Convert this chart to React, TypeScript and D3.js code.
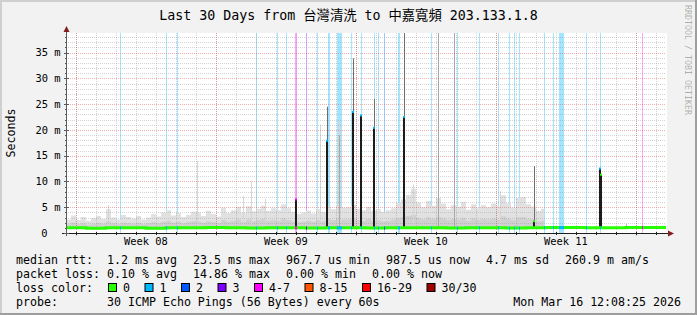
import React from "react";
import * as d3 from "d3";

const START = Date.UTC(2026, 1, 14, 12, 8, 25);
const END = Date.UTC(2026, 2, 16, 12, 8, 25);
const DAY_MS = 864e5;

const Y_MAX = 38.8;
const yMajorTicks = [0, 5, 10, 15, 20, 25, 30, 35];
const yTickLabels = ["0", "5 m", "10 m", "15 m", "20 m", "25 m", "30 m", "35 m"];
const weekLabels = ["Week 08", "Week 09", "Week 10", "Week 11"];

// smoke (ms) in 0.25-day buckets from the start
const SMOKE_STEP_DAYS = 0.25;
const SMOKE_END_DAY = 23.9;
const smokeMin = 0.9;
const smokeHi = [
  2.6, 3.4, 2.5, 3.1, 2.4, 2.9, 3.3, 2.7, 4.6, 3.0, 2.6, 3.5, 3.1, 2.8, 3.3, 2.6,
  3.0, 3.7, 3.2, 4.0, 4.4, 3.4, 3.9, 3.1, 3.5, 4.1, 4.0, 3.3, 4.3, 3.7, 3.2, 4.9,
  3.9, 4.4, 5.1, 4.0, 5.2, 4.2, 4.7, 5.3, 4.3, 4.8, 4.4, 5.6, 4.8, 4.1, 3.7, 4.0,
  4.3, 3.8, 4.6, 4.1, 5.2, 4.6, 5.4, 4.9, 5.0, 5.5, 4.7, 4.4, 5.1, 4.3, 4.6, 4.1,
  4.4, 4.8, 5.8, 6.5, 7.4, 8.6, 5.9, 5.0, 6.2, 5.3, 6.8, 5.7, 4.6, 5.4, 5.1, 6.0,
  4.5, 5.6, 4.8, 5.4, 5.0, 5.7, 5.2, 7.3, 5.8, 4.9, 6.8, 7.0, 5.6, 5.1, 4.3, 4.7,
];
const smokeLo = [
  1.7, 2.0, 1.7, 1.9, 1.6, 1.8, 2.0, 1.8, 2.3, 1.9, 1.7, 2.0, 1.9, 1.8, 2.0, 1.7,
  1.9, 2.1, 1.9, 2.2, 2.4, 2.0, 2.2, 1.9, 2.1, 2.3, 2.2, 2.0, 2.3, 2.1, 1.9, 2.5,
  2.2, 2.4, 2.6, 2.2, 2.6, 2.3, 2.5, 2.7, 2.4, 2.5, 2.4, 2.8, 2.5, 2.3, 2.1, 2.2,
  2.4, 2.2, 2.5, 2.3, 2.7, 2.5, 2.8, 2.6, 2.6, 2.8, 2.5, 2.4, 2.7, 2.4, 2.5, 2.3,
  2.4, 2.6, 2.9, 3.1, 3.3, 3.5, 2.9, 2.6, 3.0, 2.7, 3.1, 2.8, 2.5, 2.7, 2.6, 2.9,
  2.4, 2.8, 2.5, 2.7, 2.6, 2.8, 2.6, 3.2, 2.8, 2.5, 3.0, 3.1, 2.7, 2.6, 2.3, 2.4,
];

// thin smoke spikes (day offset, ms)
const lightSmokeDay = [2.1, 6.55, 8.85, 9.235, 9.95, 12.7, 13.6, 13.72, 17.35, 21.7];
const lightSmokeMax = [5.4, 13.9, 7.1, 10.0, 6.6, 21.0, 22.0, 21.0, 9.4, 8.1];
const denseSmokeDay = [13.66, 18.6, 19.4, 28.01];
const denseSmokeMax = [19.0, 38.8, 38.8, 1.7];

// median rtt, one value per day (ms)
const medianDaily = [
  1.0, 0.9, 1.0, 1.0, 0.9, 1.0, 1.0, 1.05, 1.0, 0.95, 1.0, 1.0, 0.95, 1.0, 1.0,
  0.95, 1.0, 1.0, 1.0, 0.95, 1.0, 1.0, 0.95, 1.0, 1.05, 1.05, 1.0, 1.0, 1.05, 1.05,
];

// packet loss events
const lossDay = [
  2.715, 5.015, 5.565, 9.485, 10.535, 11.0, 11.45, 12.0, 12.565, 13.09, 13.535, 14.265,
  14.75, 15.385, 15.615, 15.915, 16.6, 18.235, 19.565, 20.635, 21.615, 22.165, 22.415,
  22.665, 23.915, 24.335, 24.65, 26.015, 26.715, 28.785,
];
const lossDuration = [
  0.065, 0.065, 0.065, 0.065, 0.065, 0.065, 0.1, 0.065, 0.065, 0.08, 0.25, 0.065,
  0.065, 0.065, 0.065, 0.065, 0.1, 0.065, 0.065, 0.065, 0.065, 0.065, 0.065,
  0.065, 0.065, 0.065, 0.25, 0.065, 0.065, 0.065,
];
const lossClass = [
  1, 1, 1, 1, 1, 1, 4, 3, 1, 1, 1, 1, 1, 1, 1, 2, 1, 1, 1, 1, 1, 1, 1, 1, 1, 1, 1, 1, 1, 4,
];

// high-latency spikes
const spikeDay = [11.5, 13.05, 14.335, 14.75, 15.415, 16.9, 23.415, 26.685, 26.75];
const spikeMedian = [6.5, 17.9, 23.5, 22.8, 20.4, 22.5, 2.3, 12.5, 11.3];
const spikeMax = [6.5, 24.5, 33.9, 22.8, 26.0, 38.8, 13.0, 12.5, 11.3];
const spikeLoss = [4, 1, 1, 1, 1, 1, 0, 1, 0];

const lossLegend = ["0", "1", "2", "3", "4-7", "8-15", "16-29", "30/30"];
const lossColors = ["#26ff00", "#00b8ff", "#0059ff", "#7e00ff", "#ff00ff", "#ff5500", "#ff0000", "#a00000"];

const legendRtt = ["1.2 ms avg", "23.5 ms max", "967.7 us min", "987.5 us now", "4.7 ms sd", "260.9 m am/s"];
const legendLoss = ["0.10 % avg", "14.86 % max", "0.00 % min", "0.00 % now"];
const probeText = "30 ICMP Echo Pings (56 Bytes) every 60s";
const dateText = "Mon Mar 16 12:08:25 2026";
const titleText = "Last 30 Days from 台灣清洗 to 中嘉寬頻 203.133.1.8";

const MONO = "'DejaVu Sans Mono', 'Noto Sans CJK TC', monospace";
const W = 697;
const H = 315;
const X0 = 66, X1 = 666, Y0 = 233, Y1 = 33;
const LEG_CHAR = 7.0;
const LEG_FONT = LEG_CHAR / 0.602;

export default function App() {
  const xs = d3.scaleUtc().domain([new Date(START), new Date(END)]).range([X0, X1]);
  const ys = d3.scaleLinear().domain([0, Y_MAX]).range([Y0, Y1]);
  const X = (d: number) => xs(new Date(START + d * DAY_MS));

  const days = d3.utcDay.range(new Date(START), new Date(END));
  const sundays = d3.utcSunday.range(new Date(START), new Date(END));
  const weekMids = sundays
    .map((s) => new Date(s.getTime() + 3.5 * DAY_MS))
    .filter((m) => m.getTime() < END);
  const minorY = d3.range(1, Math.floor(Y_MAX) + 1).filter((v) => v % 5 !== 0);

  type P = { d: number; hi: number; lo: number };
  const smokePts: P[] = smokeHi.map((hi, i) => ({ d: i * SMOKE_STEP_DAYS, hi, lo: smokeLo[i] }));
  smokePts.push({ d: SMOKE_END_DAY, hi: smokeHi[smokeHi.length - 1], lo: smokeLo[smokeLo.length - 1] });
  const areaHi = d3.area<P>().x((p) => X(p.d)).y0(ys(smokeMin)).y1((p) => ys(p.hi)).curve(d3.curveStepAfter);
  const areaLo = d3.area<P>().x((p) => X(p.d)).y0(ys(smokeMin)).y1((p) => ys(p.lo)).curve(d3.curveStepAfter);

  const medPts = medianDaily.map((v, i) => [i, v] as [number, number]);
  medPts.push([30, medianDaily[medianDaily.length - 1]]);
  const medLine = d3.line<[number, number]>().x((p) => X(p[0])).y((p) => ys(p[1])).curve(d3.curveStepAfter);
  const medAt = (d: number) => medianDaily[Math.min(29, Math.floor(d))];

  const legX0 = 107;
  const gap = 16;
  const rttX: number[] = [];
  legendRtt.reduce((x, s) => { rttX.push(x); return x + s.length * LEG_CHAR + gap; }, legX0);
  const lossX: number[] = [];
  legendLoss.reduce((x, s) => { lossX.push(x); return x + s.length * LEG_CHAR + gap; }, legX0);
  const colorX: number[] = [];
  lossLegend.reduce((x, s) => { colorX.push(x); return x + 15 + s.length * LEG_CHAR + 14.5; }, 108);

  return (
    <svg width={W} height={H} style={{ display: "block", position: "absolute", left: 0, top: 0 }}>
      <rect x={0} y={0} width={W} height={H} fill="#f2f2f2" />
      <rect x={0} y={0} width={W} height={2} fill="#cfcfcf" />
      <rect x={0} y={0} width={2} height={H} fill="#cfcfcf" />
      <rect x={0} y={H - 2} width={W} height={2} fill="#9e9e9e" />
      <rect x={W - 2} y={0} width={2} height={H} fill="#9e9e9e" />

      <rect x={X0} y={Y1} width={X1 - X0 + 1} height={Y0 - Y1} fill="#ffffff" />

      {/* loss background */}
      {lossDay.map((d, i) => {
        const x = Math.round(X(d));
        const w = Math.max(1, Math.round(X(d + lossDuration[i]) - X(d)));
        return (
          <rect key={"lb" + i} x={x} y={Y1} width={w} height={Y0 - Y1}
            fill={lossColors[lossClass[i]]} fillOpacity={0.36} />
        );
      })}

      {/* smoke */}
      <path d={areaHi(smokePts) || ""} fill="#e1e1e1" />
      <path d={areaLo(smokePts) || ""} fill="#d0d0d0" />
      {lightSmokeDay.map((d, i) => (
        <rect key={"ls" + i} x={Math.round(X(d))} y={ys(lightSmokeMax[i])} width={1}
          height={ys(smokeMin) - ys(lightSmokeMax[i])} fill="#d6d6d6" />
      ))}
      {denseSmokeDay.map((d, i) => (
        <rect key={"ds" + i} x={Math.round(X(d))} y={ys(denseSmokeMax[i])} width={1}
          height={ys(smokeMin) - ys(denseSmokeMax[i])} fill="#a8a8a8" />
      ))}

      {/* grid */}
      <g shapeRendering="crispEdges" strokeDasharray="1,1">
        {minorY.map((v) => (
          <line key={"hy" + v} x1={X0} x2={X1} y1={Math.round(ys(v)) + 0.5} y2={Math.round(ys(v)) + 0.5}
            stroke="#9a9a9a" strokeOpacity={0.42} />
        ))}
        {days.map((t, i) => (
          <line key={"vx" + i} x1={Math.round(xs(t)) + 0.5} x2={Math.round(xs(t)) + 0.5} y1={Y1} y2={Y0}
            stroke="#9a9a9a" strokeOpacity={0.42} />
        ))}
        {yMajorTicks.filter((v) => v > 0).map((v) => (
          <line key={"my" + v} x1={X0} x2={X1} y1={Math.round(ys(v)) + 0.5} y2={Math.round(ys(v)) + 0.5}
            stroke="#de4f4f" strokeOpacity={0.45} />
        ))}
        {sundays.map((t, i) => (
          <line key={"mx" + i} x1={Math.round(xs(t)) + 0.5} x2={Math.round(xs(t)) + 0.5} y1={Y1} y2={Y0 + 3}
            stroke="#de4f4f" strokeOpacity={0.45} />
        ))}
      </g>

      {/* spikes */}
      {spikeDay.map((d, i) => {
        const x = Math.round(X(d)) - 1;
        return (
          <g key={"sp" + i}>
            <rect x={x + 1} y={ys(spikeMax[i])} width={1} height={ys(spikeMedian[i]) - ys(spikeMax[i])} fill="#6e6e6e" />
            <rect x={x} y={ys(spikeMedian[i])} width={2} height={ys(medAt(d)) - ys(spikeMedian[i])} fill="#1c1c1c" />
            <rect x={x} y={ys(spikeMedian[i]) - 1} width={2} height={2} fill={lossColors[spikeLoss[i]]} />
          </g>
        );
      })}

      {/* median */}
      <path d={medLine(medPts) || ""} fill="none" stroke={lossColors[0]} strokeWidth={3} />
      {lossDay.map((d, i) => {
        const x = Math.round(X(d));
        const w = Math.max(1, Math.round(X(d + lossDuration[i]) - X(d)));
        return (
          <rect key={"lm" + i} x={x} y={ys(medAt(d)) - 1.5} width={w} height={3} fill={lossColors[lossClass[i]]} />
        );
      })}

      {/* axes */}
      <g shapeRendering="crispEdges">
        <line x1={X0 + 0.5} x2={X0 + 0.5} y1={Y0 + 3} y2={30} stroke="#5a5a5a" />
        <line x1={62} x2={669} y1={Y0 + 0.5} y2={Y0 + 0.5} stroke="#1f1f1f" />
        {minorY.map((v) => (
          <line key={"ty" + v} x1={X0 - 1} x2={X0 + 1} y1={Math.round(ys(v)) + 0.5} y2={Math.round(ys(v)) + 0.5} stroke="#5a5a5a" />
        ))}
        {yMajorTicks.map((v) => (
          <line key={"tmy" + v} x1={X0 - 2} x2={X0 + 3} y1={Math.round(ys(v)) + 0.5} y2={Math.round(ys(v)) + 0.5} stroke="#5a5a5a" />
        ))}
        {days.map((t, i) => (
          <line key={"tx" + i} x1={Math.round(xs(t)) + 0.5} x2={Math.round(xs(t)) + 0.5} y1={Y0 - 1} y2={Y0 + 2} stroke="#1f1f1f" />
        ))}
      </g>
      <path d={`M${X0 + 0.5},26 L${X0 - 2.5},32 L${X0 + 3.5},32 Z`} fill="#801f1f" />
      <path d={`M674,${Y0 + 0.5} L668,${Y0 - 2.5} L668,${Y0 + 3.5} Z`} fill="#801f1f" />

      {/* text */}
      <g fontFamily={MONO} fill="#000">
        <text x={348.5} y={19.5} fontSize={13.3} textAnchor="middle">{titleText}</text>
        {yMajorTicks.map((v, i) => (
          <text key={"yl" + v} x={v === 0 ? 47.6 : 60.6} y={ys(v) + 3.8} fontSize={10.4} textAnchor="end">{yTickLabels[i]}</text>
        ))}
        {weekMids.map((m, i) => (
          <text key={"wl" + i} x={xs(m)} y={245} fontSize={10.4} textAnchor="middle">{weekLabels[i]}</text>
        ))}
        <text transform="translate(15,133) rotate(-90)" fontSize={LEG_FONT} textAnchor="middle">Seconds</text>
        <text transform="translate(685,5) rotate(90)" fontSize={8.3} fill="#000" fillOpacity={0.3}>RRDTOOL / TOBI OETIKER</text>

        <g fontSize={LEG_FONT}>
          <text x={16} y={263.5}>median rtt:</text>
          {legendRtt.map((s, i) => <text key={"r" + i} x={rttX[i]} y={263.5}>{s}</text>)}
          <text x={16} y={277.5}>packet loss:</text>
          {legendLoss.map((s, i) => <text key={"l" + i} x={lossX[i]} y={277.5}>{s}</text>)}
          <text x={16} y={291.5}>loss color:</text>
          {lossLegend.map((s, i) => (
            <g key={"c" + i}>
              <rect x={colorX[i] + 0.5} y={283.5} width={8} height={8} fill={lossColors[i]} stroke="#000" strokeWidth={1} />
              <text x={colorX[i] + 15} y={291.5}>{s}</text>
            </g>
          ))}
          <text x={16} y={305.5}>probe:</text>
          <text x={legX0} y={305.5}>{probeText}</text>
          <text x={681} y={305.5} textAnchor="end">{dateText}</text>
        </g>
      </g>
    </svg>
  );
}
